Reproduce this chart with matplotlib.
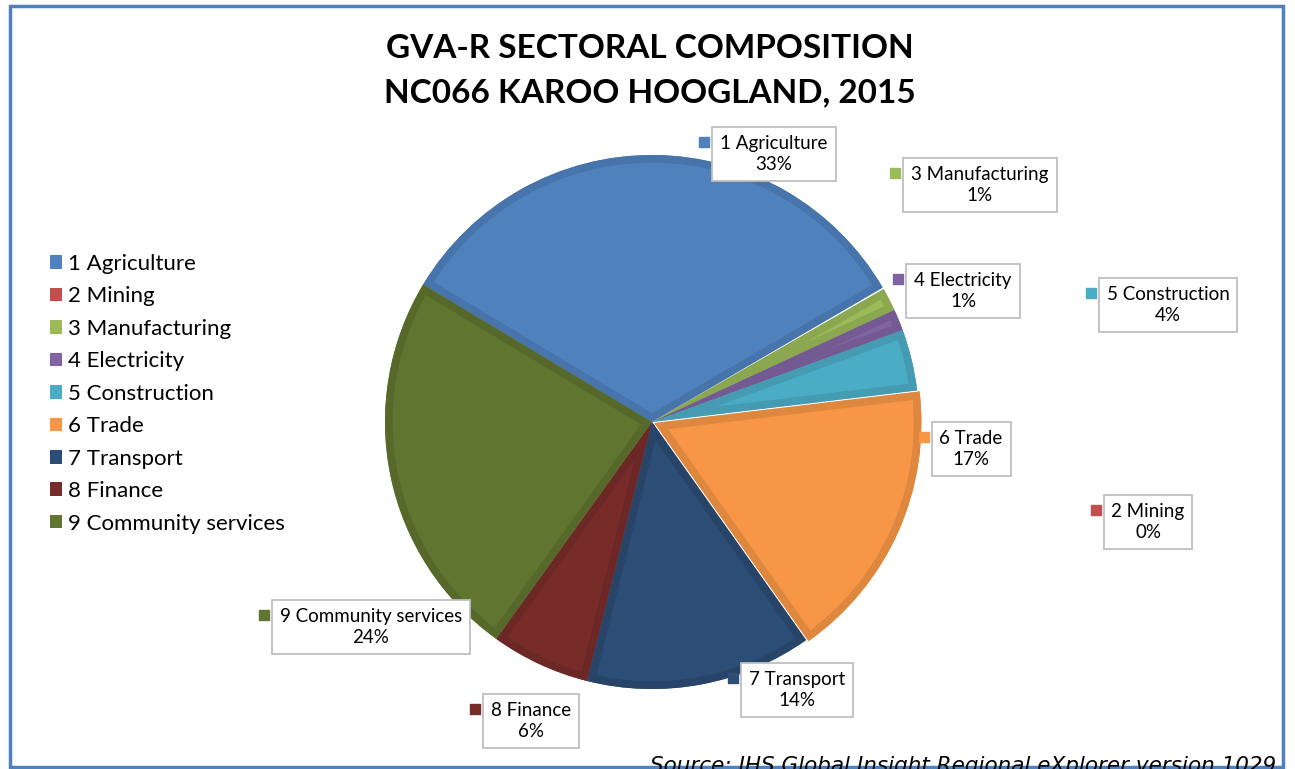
import matplotlib
matplotlib.use('Agg')
import matplotlib.pyplot as plt
from matplotlib.patches import Patch, Rectangle, Wedge
import numpy as np

# GVA-R sectoral composition, NC066 Karoo Hoogland, 2015
sectors = ['1 Agriculture', '2 Mining', '3 Manufacturing', '4 Electricity',
           '5 Construction', '6 Trade', '7 Transport', '8 Finance',
           '9 Community services']
shares = [33.0, 0.1, 1.4, 1.3, 3.7, 17.1, 13.7, 6.0, 23.7]
pct_labels = ['33%', '0%', '1%', '1%', '4%', '17%', '14%', '6%', '24%']
colors = ['#4F81BD', '#C0504D', '#9BBB59', '#8064A2', '#4BACC6',
          '#F79646', '#2C4D75', '#772C2A', '#5F7530']

# label box centres in pixels (x, y from top)
label_pos = [(774, 154), (1148, 522), (980, 185), (963, 291), (1168, 305),
             (971, 449), (797, 690), (531, 721), (371, 627)]

W, H = 1295, 769
fig = plt.figure(figsize=(W / 100, H / 100), dpi=100)
font = 'Lato'

# pie axes: centre (652, 422) px, radius 267 px
cx, cy, r = 652, 422, 267
lim = 1.1
side = 2 * lim * r
ax = fig.add_axes([(cx - side / 2) / W, (H - cy - side / 2) / H, side / W, side / H])
explode = [0, 0, 0, 0, 0, 0.01, 0, 0, 0]
wedges, _ = ax.pie(shares, colors=colors, startangle=149, counterclock=False,
                   explode=explode, radius=1.0,
                   wedgeprops=dict(linewidth=0))
ax.set_xlim(-lim, lim)
ax.set_ylim(-lim, lim)
ax.set_aspect('equal')
ax.axis('off')

# darker inner bevel band for each slice
for i, (w, c) in enumerate(zip(wedges, colors)):
    if shares[i] < 0.5:
        w.set_edgecolor('white')
        w.set_linewidth(1.2)
        continue
    dark = np.array(matplotlib.colors.to_rgb(c)) * 0.9
    band = Wedge(w.center, w.r, w.theta1, w.theta2, fill=False,
                 ec=dark, lw=11, joinstyle='miter')
    ax.add_patch(band)
    band.set_clip_path(w)

# overlay in pixel coordinates
ov = fig.add_axes([0, 0, 1, 1], facecolor='none')
ov.set_xlim(0, W)
ov.set_ylim(H, 0)
ov.axis('off')

ov.add_patch(Rectangle((10, 6), 1273, 761, fill=False, ec='#4F81BD', lw=2.5))

ov.text(650, 48, 'GVA-R SECTORAL COMPOSITION', ha='center', va='center',
        fontsize=24, fontweight='bold', family=font)
ov.text(650, 93, 'NC066 KAROO HOOGLAND, 2015', ha='center', va='center',
        fontsize=24, fontweight='bold', family=font)

fig.canvas.draw()
for name, pct, c, (x, y) in zip(sectors, pct_labels, colors, label_pos):
    t = ov.text(x, y, name + '\n' + pct, ha='center', va='center',
                fontsize=13.5, family=font, linespacing=1.3,
                bbox=dict(boxstyle='square,pad=0.42', fc='white', ec='#BFBFBF', lw=1.3))
    t.draw(fig.canvas.get_renderer())
    bb = t.get_bbox_patch().get_window_extent()
    left = ov.transData.inverted().transform((bb.x0, bb.y0))[0]
    ov.scatter([left - 8], [y - 12], marker='s', s=50, color=c, zorder=5)

handles = [Patch(facecolor=c, edgecolor='none') for c in colors]
fig.legend(handles, sectors, loc='upper left', bbox_to_anchor=(30 / W, 1 - 234 / H),
           frameon=False, prop={'family': font, 'size': 16},
           handlelength=0.56, handleheight=0.56, handletextpad=0.25,
           labelspacing=0.56)

ov.text(1276, 772, 'Source: IHS Global Insight Regional eXplorer version 1029',
        ha='right', va='baseline', fontsize=15.5, style='italic', family='DejaVu Sans')

fig.savefig('out.png', dpi=100)
